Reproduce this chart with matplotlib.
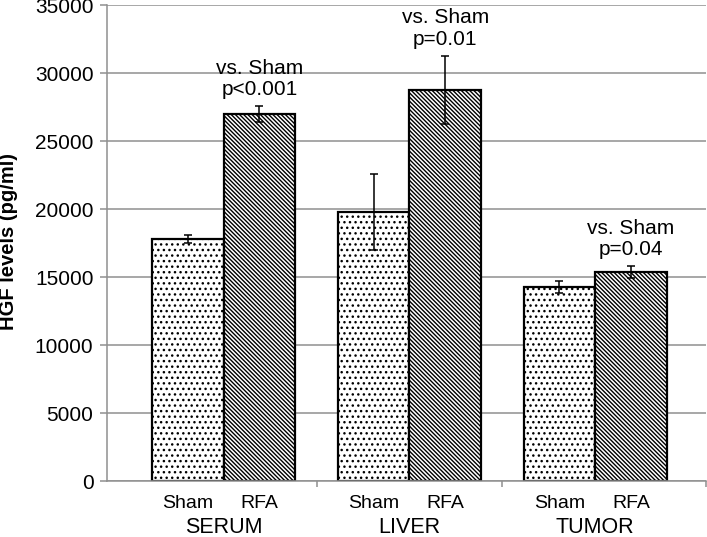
import matplotlib
matplotlib.use("Agg")
import matplotlib.pyplot as plt
import numpy as np

plt.rcParams['font.family'] = ['Liberation Sans', 'DejaVu Sans']
plt.rcParams['hatch.linewidth'] = 1.0

groups = ["SERUM", "LIVER", "TUMOR"]
sub_labels = ["Sham", "RFA"]
sham_vals = [17800, 19800, 14300]
sham_err = [300, 2800, 450]
rfa_vals = [27000, 28800, 15400]
rfa_err = [600, 2500, 450]
annotations = ["vs. Sham\np<0.001", "vs. Sham\np=0.01", "vs. Sham\np=0.04"]
yticks = [0, 5000, 10000, 15000, 20000, 25000, 30000, 35000]

fig = plt.figure(figsize=(7.07, 5.37), dpi=100)
ax = fig.add_axes([0.1518, 0.1037, 0.8468, 0.8864])

x = np.arange(len(groups))
w = 0.385
grid_c = "#8f8f8f"

ax.set_axisbelow(True)
ax.yaxis.grid(True, color=grid_c, linewidth=1.1)

ax.bar(x - w / 2, sham_vals, width=w, color="white", edgecolor="black",
       linewidth=1.6, hatch="...")
ax.bar(x + w / 2, rfa_vals, width=w, color="white", edgecolor="black",
       linewidth=1.6, hatch="\\" * 8)
ax.errorbar(x - w / 2, sham_vals, yerr=sham_err, fmt="none", ecolor="black",
            elinewidth=1.1, capsize=3, capthick=1.1)
ax.errorbar(x + w / 2, rfa_vals, yerr=rfa_err, fmt="none", ecolor="black",
            elinewidth=1.1, capsize=3, capthick=1.1)

for xi, v, e, t in zip(x, rfa_vals, rfa_err, annotations):
    ax.annotate(t, xy=(xi + w / 2, v + e), xytext=(0, 5), textcoords="offset points",
                ha="center", va="bottom", fontsize=15, linespacing=1.15)

ax.set_ylim(0, 35000)
ax.set_xlim(-0.626, 2.596)
ax.set_yticks(yticks)
ax.set_yticklabels([str(t) for t in yticks], fontsize=15)
ax.tick_params(axis="y", length=5, width=1.1, color=grid_c, pad=5)

ax.set_xticks([0.5, 1.5, 2.596])
ax.set_xticklabels([])
ax.tick_params(axis="x", length=4, width=1.1, color=grid_c)

for s in ["top", "right"]:
    ax.spines[s].set_visible(False)
for s in ["left", "bottom"]:
    ax.spines[s].set_color(grid_c)
    ax.spines[s].set_linewidth(1.1)

for xi, g in zip(x, groups):
    for off, lab in zip([-w / 2, w / 2], sub_labels):
        ax.annotate(lab, xy=(xi + off, 0), xycoords=("data", "axes fraction"),
                    xytext=(0, -19.5), textcoords="offset points",
                    ha="center", va="baseline", fontsize=14)
    ax.annotate(g, xy=(xi, 0), xycoords=("data", "axes fraction"),
                xytext=(0, -37.5), textcoords="offset points",
                ha="center", va="baseline", fontsize=15.5)

fig.text(9 / 707, 1 - 241 / 537, "HGF levels (pg/ml)", rotation=90,
         ha="center", va="center", fontsize=14.5, fontweight="bold")

fig.savefig("out.png", dpi=100)
